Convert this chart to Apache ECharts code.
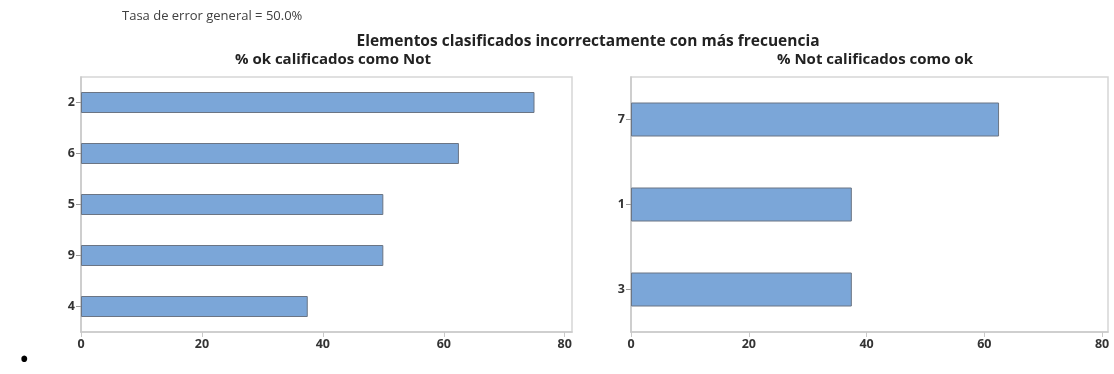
<!DOCTYPE html>
<html>
<head>
<meta charset="utf-8">
<script src="https://cdn.jsdelivr.net/npm/echarts@6/dist/echarts.min.js"></script>
<style>
  html, body { margin: 0; padding: 0; background: #fff; }
  #chart { width: 1114px; height: 374px; }
</style>
</head>
<body>
<div id="chart"></div>
<script>
// Misclassified items: percentage of each class predicted as the other class
const okAsNotCategories = ['2', '6', '5', '9', '4'];
const okAsNotValues = [75, 62.5, 50, 50, 37.5];
const notAsOkCategories = ['7', '1', '3'];
const notAsOkValues = [62.5, 37.5, 37.5];
const xTickValues = [0, 20, 40, 60, 80];

const FONT = '"Open Sans", "Noto Sans", sans-serif';
const BAR_FILL = '#7BA6D8';
const BAR_EDGE = '#6b7584';
const AXIS_GRAY = '#c9c9c9';
const TEXT_DARK = '#333';

function xAxisFor(gridIndex, max) {
  return {
    type: 'value', gridIndex, min: 0, max,
    splitLine: { show: false },
    axisLine: { show: true, lineStyle: { color: AXIS_GRAY, width: 1.5 } },
    axisTick: { show: true, length: 5, customValues: xTickValues, lineStyle: { color: AXIS_GRAY } },
    axisLabel: {
      customValues: xTickValues, margin: 6,
      fontFamily: FONT, fontSize: 12.5, fontWeight: 'bold', color: TEXT_DARK
    }
  };
}

function yAxisFor(gridIndex, cats) {
  return {
    type: 'category', gridIndex, data: cats, inverse: true,
    axisLine: { show: true, lineStyle: { color: AXIS_GRAY, width: 1.5 } },
    axisTick: { show: true, alignWithLabel: true, length: 5, lineStyle: { color: '#999' } },
    axisLabel: { margin: 6, fontFamily: FONT, fontSize: 12.5, fontWeight: 'bold', color: TEXT_DARK }
  };
}

function barSeries(index, values, width) {
  return {
    type: 'bar', xAxisIndex: index, yAxisIndex: index, data: values,
    barWidth: width, silent: true,
    itemStyle: { color: BAR_FILL, borderColor: BAR_EDGE, borderWidth: 1 }
  };
}

const chart = echarts.init(document.getElementById('chart'), null, { renderer: 'canvas' });
chart.setOption({
  animation: false,
  backgroundColor: '#fff',
  title: [
    { text: 'Tasa de error general = 50.0%', left: 117, top: 5,
      textStyle: { fontFamily: FONT, fontSize: 13, fontWeight: 'normal', color: '#404040' } },
    { text: 'Elementos clasificados incorrectamente con más frecuencia', left: 583, top: 29, textAlign: 'center',
      textStyle: { fontFamily: FONT, fontSize: 15.5, fontWeight: 'bold', color: '#222' } },
    { text: '% ok calificados como Not', left: 328, top: 47, textAlign: 'center',
      textStyle: { fontFamily: FONT, fontSize: 15, fontWeight: 'bold', color: '#222' } },
    { text: '% Not calificados como ok', left: 870, top: 47, textAlign: 'center',
      textStyle: { fontFamily: FONT, fontSize: 15, fontWeight: 'bold', color: '#222' } },
    { text: '•', left: 14, top: 342,
      textStyle: { fontFamily: FONT, fontSize: 28, fontWeight: 'normal', color: '#000' } }
  ],
  grid: [
    { left: 81, right: 542, top: 77, bottom: 42, show: true, borderColor: '#d6d6d6', borderWidth: 1.5, backgroundColor: '#fff' },
    { left: 631, right: 6, top: 77, bottom: 42, show: true, borderColor: '#d6d6d6', borderWidth: 1.5, backgroundColor: '#fff' }
  ],
  xAxis: [xAxisFor(0, 81.2), xAxisFor(1, 81)],
  yAxis: [yAxisFor(0, okAsNotCategories), yAxisFor(1, notAsOkCategories)],
  series: [barSeries(0, okAsNotValues, 21), barSeries(1, notAsOkValues, 34)]
});
</script>
</body>
</html>
